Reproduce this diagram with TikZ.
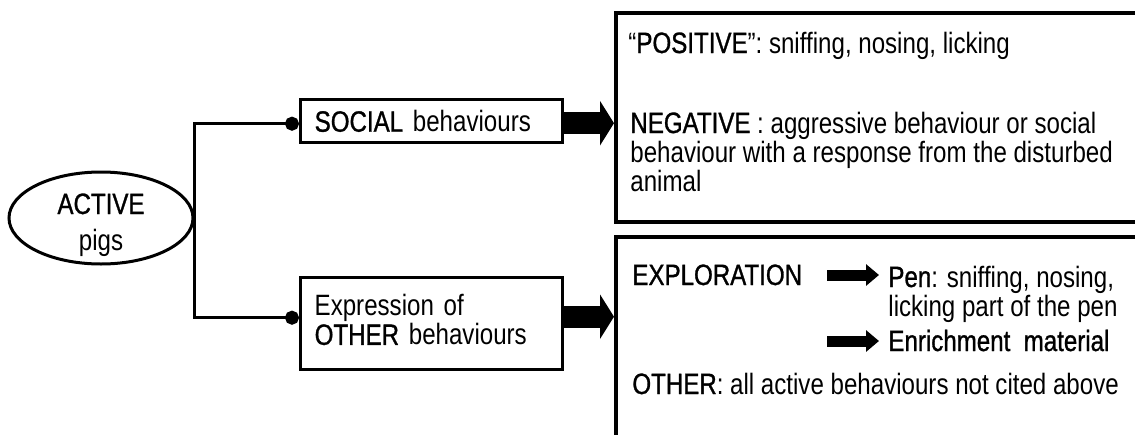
\documentclass[tikz,border=0pt]{standalone}
\usepackage{fontspec}
\setmainfont{Liberation Sans}[FakeStretch=0.82]
\newfontfamily\keyfont{Liberation Sans}[FakeStretch=0.82,FakeBold=1]
\usepackage{tikz}
\usetikzlibrary{
  shapes.geometric,
  arrows.meta,
  positioning
}
\newcommand{\kw}[1]{{\keyfont #1}}
\tikzset{
  pigoval/.style = {
    ellipse, draw, line width=1.5pt,
    minimum width=92pt, minimum height=46pt,
    align=center, inner sep=0pt
  },
  catbox/.style = {
    rectangle, draw, line width=1.7pt,
    text width=117pt, minimum height=#1,
    align=left, inner xsep=7pt, inner ysep=0pt,
    anchor=north west
  },
  catbox/.default = 21.5pt,
  detailbox/.style = {
    rectangle, draw, line width=2pt,
    minimum width=300pt, minimum height=#1,
    anchor=north west, inner sep=0pt
  },
  detailbox/.default = 104.5pt,
  txt/.style = {anchor=base west, inner sep=0pt, align=left},
  link/.style = {-{Circle[length=7pt]}, line width=1.5pt},
  fatarr/.style = {-{Triangle[length=7pt, width=22pt]}, line width=11pt},
  thinarr/.style = {-{Triangle[length=6.5pt, width=10.5pt]}, line width=5.5pt},
}

\begin{document}
\begin{tikzpicture}[x=0.5pt, y=-0.5pt,
                    font=\fontsize{14.7pt}{14.5pt}\selectfont]

  \path[use as bounding box, clip] (0,0) rectangle (1135,434);

  \node[pigoval, text height=32pt, text depth=0pt] (active) at (101,218)
    {\kw{ACTIVE}\\[3.5pt]pigs};

  %% behaviour categories
  \node[catbox] (social) at (299,98) {\kw{SOCIAL} behaviours};
  \node[catbox=46pt, text depth=18.5pt] (other) at (299,276)
    {Expression of\\\kw{OTHER} behaviours};

  %% detail boxes (cut at the page edge)
  \node[detailbox] (socdet) at (614,11) {};
  \node[detailbox=112.5pt] (othdet) at (614,235) {};

  \node[txt] (pos) at (628,53)
    {“\kw{POSITIVE}”: sniffing, nosing, licking};
  \node[txt] (neg) at (630,191)
    {\kw{NEGATIVE} : aggressive behaviour or social\\
     behaviour with a response from the disturbed\\
     animal};

  \node[txt] (explo) at (632,285) {\kw{EXPLORATION}};
  \node[txt] (pen) at (888,316)
    {\kw{Pen}: sniffing, nosing,\\licking part of the pen};
  \node[txt] (enrich) at (888,351) {\kw{Enrichment~ material}};
  \node[txt] (rest) at (632,394)
    {\kw{OTHER}: all active behaviours not cited above};
  \coordinate (penrow) at (explo.base -| pen.west);

  \draw[link] (active.east) |- ([yshift=-1.25pt]social.west);
  \draw[link] (active.east) |- ([yshift=3pt]other.west);

  \draw[fatarr] ([yshift=-1pt]social.east)
    -- ([yshift=-1pt]social.east -| socdet.west);
  \draw[fatarr] ([yshift=3.5pt]other.east)
    -- ([yshift=3.5pt]other.east -| othdet.west);

  \draw[thinarr] ([xshift=-30.5pt, yshift=5pt]penrow)
    -- ([xshift=-4.5pt, yshift=5pt]penrow);
  \draw[thinarr] ([xshift=-30.5pt, yshift=5pt]enrich.base west)
    -- ([xshift=-4.5pt, yshift=5pt]enrich.base west);

\end{tikzpicture}
\end{document}
